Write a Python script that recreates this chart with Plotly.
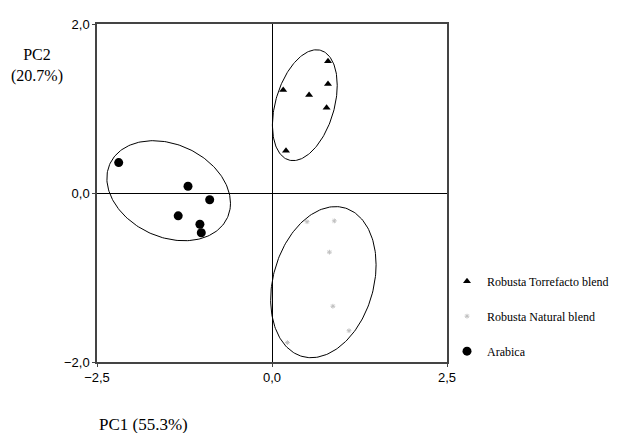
import numpy as np
import plotly.graph_objects as go

# --- data ---
torre_pc1 = [0.80, 0.16, 0.53, 0.80, 0.78, 0.20]
torre_pc2 = [1.56, 1.22, 1.16, 1.29, 1.01, 0.50]

natural_pc1 = [0.50, 0.89, 0.82, 0.87, 1.10, 0.22]
natural_pc2 = [-0.34, -0.33, -0.70, -1.34, -1.63, -1.77]

arabica_pc1 = [-2.19, -1.20, -0.89, -1.34, -1.03, -1.01]
arabica_pc2 = [0.36, 0.08, -0.08, -0.27, -0.37, -0.47]

# ellipse parameters: centre x, centre y, half-width, half-height, skew (sin phi)
ell_cx = [0.469, 0.734, -1.476]
ell_cy = [1.039, -1.055, 0.027]
ell_w = [0.463, 0.753, 0.883]
ell_h = [0.656, 0.894, 0.592]
ell_skew = [0.36, 0.23, -0.25]

x_ticks = [-2.5, 0.0, 2.5]
y_ticks = [-2.0, 0.0, 2.0]

serif = "Liberation Serif, Times New Roman, serif"
sans = "Liberation Sans, Arial, sans-serif"

fig = go.Figure()

t = np.linspace(0, 2 * np.pi, 200)
for cx, cy, w, h, s in zip(ell_cx, ell_cy, ell_w, ell_h, ell_skew):
    phi = np.arcsin(s)
    fig.add_trace(go.Scatter(
        x=cx + w * np.cos(t), y=cy + h * np.sin(t + phi),
        mode="lines", line=dict(color="black", width=1),
        showlegend=False, hoverinfo="skip"))

fig.add_trace(go.Scatter(
    x=torre_pc1, y=torre_pc2, mode="markers", name="Robusta Torrefacto blend",
    legendgroup="a",
    marker=dict(symbol="triangle-up", size=7, color="black")))
fig.add_trace(go.Scatter(
    x=natural_pc1, y=natural_pc2, mode="markers", name="Robusta Natural blend",
    legendgroup="b",
    marker=dict(symbol="asterisk-open", size=4, color="#c0c0c0",
                line=dict(color="#c0c0c0", width=1))))
fig.add_trace(go.Scatter(
    x=arabica_pc1, y=arabica_pc2, mode="markers", name="Arabica",
    legendgroup="c",
    marker=dict(symbol="circle", size=9, color="black")))

axis_common = dict(
    showgrid=False, zeroline=True, zerolinecolor="black", zerolinewidth=1,
    showline=True, linecolor="#444", linewidth=1.5, mirror=True,
    ticks="outside", ticklen=3, tickcolor="#444",
    tickfont=dict(family=sans, size=13, color="black"),
    tickformat=".1f",
)

fig.update_xaxes(range=[-2.5, 2.5], tickvals=x_ticks, **axis_common)
fig.update_yaxes(range=[-2.0, 2.0], tickvals=y_ticks, **axis_common)

fig.add_annotation(text="PC2<br>(20.7%)", xref="paper", yref="paper",
                   x=-0.17, y=0.876, xanchor="center", yanchor="middle",
                   showarrow=False, align="center",
                   font=dict(family=serif, size=16, color="black"))
fig.add_annotation(text="PC1 (55.3%)", xref="paper", yref="paper",
                   x=0.0, y=-0.186, xanchor="left", yanchor="middle",
                   showarrow=False,
                   font=dict(family=serif, size=17, color="black"))

fig.update_layout(
    width=615, height=425,
    margin=dict(l=89, r=176, t=9, b=71),
    plot_bgcolor="white", paper_bgcolor="white",
    separators=",.",
    legend=dict(x=1.0, y=0.282, xanchor="left", yanchor="top",
                font=dict(family=serif, size=12, color="black"),
                tracegroupgap=16, bgcolor="rgba(0,0,0,0)"),
)

fig.write_html("out.html")
